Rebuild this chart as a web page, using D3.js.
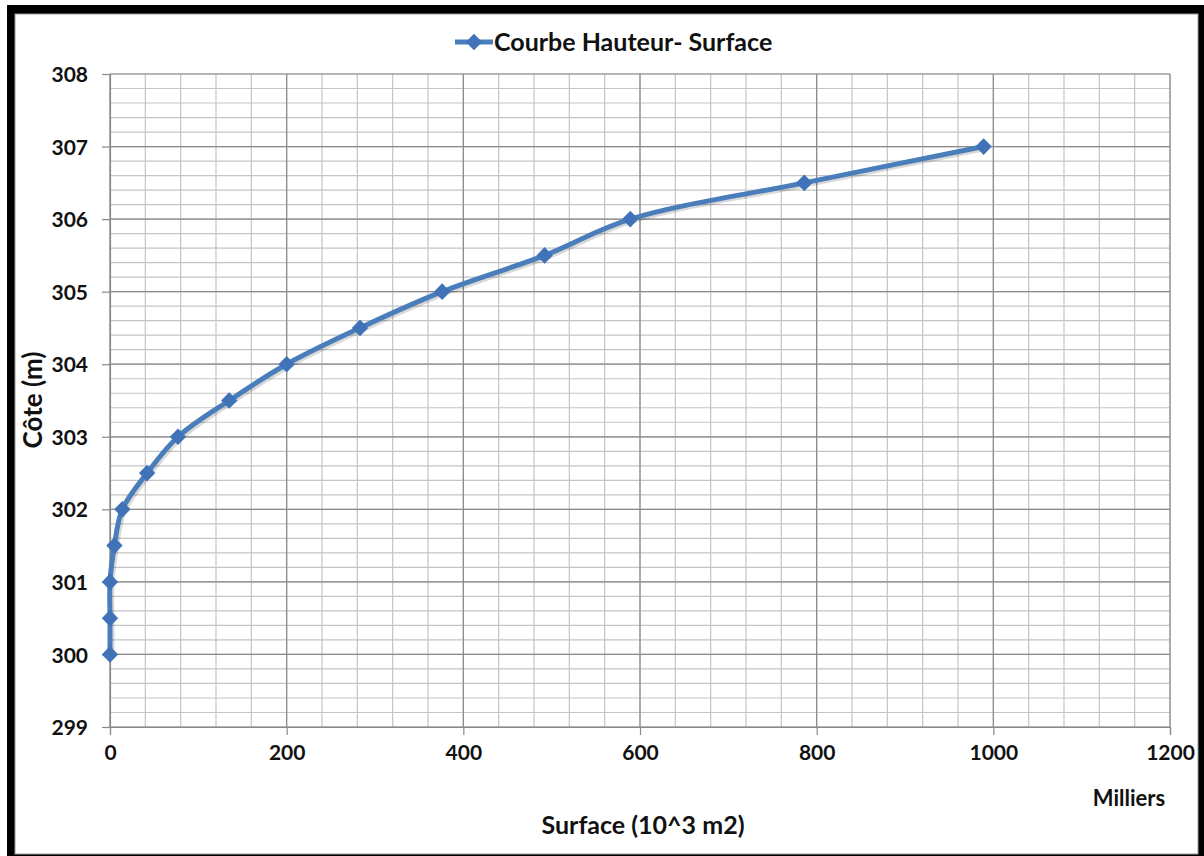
<!DOCTYPE html>
<html>
<head>
<meta charset="utf-8">
<script src="https://cdn.jsdelivr.net/npm/d3@7"></script>
<style>
  body { margin: 0; background: #fff; }
  svg { display: block; }
  text { font-family: Lato, "Open Sans", sans-serif; font-weight: bold; fill: #111; }
</style>
</head>
<body>
<svg id="chart"></svg>
<script>
// surface in milliers de m2, cote in m
var surface = [0, 0, 0, 5, 14, 42, 77, 135, 200, 283, 376, 492, 589, 786, 989]
var cote = [300, 300.5, 301, 301.5, 302, 302.5, 303, 303.5, 304, 304.5, 305, 305.5, 306, 306.5, 307]
var xTicks = [0, 200, 400, 600, 800, 1000, 1200]
var yTicks = [299, 300, 301, 302, 303, 304, 305, 306, 307, 308]
var seriesName = "Courbe Hauteur- Surface"

var points = surface.map(function(s, i) {
    return { x: s, y: cote[i] }
})

var screen = { width: 1204, height: 856 }
var svg = d3.select("#chart")
    .attr("width", screen.width)
    .attr("height", screen.height)

// frame
svg.append("rect").attr("x", 7).attr("y", 5).attr("width", 1197).attr("height", 851).attr("fill", "#000")
svg.append("rect").attr("x", 15).attr("y", 14).attr("width", 1183).attr("height", 840)
    .attr("fill", "#fff").attr("stroke", "#9a9a9a").attr("stroke-width", 1)

var xScale = d3.scaleLinear().domain([0, 1200]).range([110, 1170])
var yScale = d3.scaleLinear().domain([299, 308]).range([727, 74])

var grid = svg.append("g")
// minor grid
grid.selectAll("line.vminor")
    .data(d3.range(0, 1201, 40))
    .enter().append("line")
    .attr("x1", function(d) { return xScale(d) }).attr("x2", function(d) { return xScale(d) })
    .attr("y1", yScale(299)).attr("y2", yScale(308))
    .attr("stroke", "#c4c4c4").attr("stroke-width", 1.2)
grid.selectAll("line.hminor")
    .data(d3.range(0, 46).map(function(i) { return 299 + i * 0.2 }))
    .enter().append("line")
    .attr("y1", function(d) { return yScale(d) }).attr("y2", function(d) { return yScale(d) })
    .attr("x1", xScale(0)).attr("x2", xScale(1200))
    .attr("stroke", "#c4c4c4").attr("stroke-width", 1.2)
// major grid
grid.selectAll("line.vmajor")
    .data(xTicks)
    .enter().append("line")
    .attr("x1", function(d) { return xScale(d) }).attr("x2", function(d) { return xScale(d) })
    .attr("y1", yScale(299)).attr("y2", yScale(308))
    .attr("stroke", "#8a8a8a").attr("stroke-width", 1.2)
grid.selectAll("line.hmajor")
    .data(yTicks)
    .enter().append("line")
    .attr("y1", function(d) { return yScale(d) }).attr("y2", function(d) { return yScale(d) })
    .attr("x1", xScale(0)).attr("x2", xScale(1200))
    .attr("stroke", "#8a8a8a").attr("stroke-width", 1.2)

// axes
var xAxis = d3.axisBottom(xScale).tickValues(xTicks).tickSize(8).tickPadding(10).tickFormat(d3.format("d"))
var yAxis = d3.axisLeft(yScale).tickValues(yTicks).tickSize(8).tickPadding(14).tickFormat(d3.format("d"))

var gx = svg.append("g").attr("transform", "translate(0," + yScale(299) + ")").call(xAxis)
var gy = svg.append("g").attr("transform", "translate(" + xScale(0) + ",0)").call(yAxis)
;[gx, gy].forEach(function(g) {
    g.select(".domain").attr("stroke", "#8a8a8a").attr("stroke-width", 1.2)
    g.selectAll(".tick line").attr("stroke", "#8a8a8a").attr("stroke-width", 1.2)
    g.selectAll(".tick text").style("font-size", "21px").style("font-family", "Lato, sans-serif")
        .style("font-weight", "bold").attr("fill", "#111")
})
gy.selectAll(".tick text").attr("dy", "0.36em")

// series
var line = d3.line()
    .x(function(p) { return xScale(p.x) })
    .y(function(p) { return yScale(p.y) })
    .curve(d3.curveCatmullRom.alpha(0.5))

var blue = "#4a7ebb"
var markBlue = "#3f72b6"

svg.append("path")
    .datum(points)
    .attr("d", line)
    .attr("fill", "none")
    .attr("stroke", "#000").attr("stroke-opacity", 0.15)
    .attr("stroke-width", 5)
    .attr("transform", "translate(2,2)")
svg.append("path")
    .datum(points)
    .attr("d", line)
    .attr("fill", "none")
    .attr("stroke", blue)
    .attr("stroke-width", 5)
    .attr("stroke-linejoin", "round")

var diamond = d3.symbol().type(d3.symbolDiamond).size(80)
svg.selectAll("path.mark")
    .data(points)
    .enter().append("path")
    .attr("class", "mark")
    .attr("d", diamond)
    .attr("transform", function(p) { return "translate(" + xScale(p.x) + "," + yScale(p.y) + ") scale(1.7,1)" })
    .attr("fill", markBlue)

// legend
var lg = svg.append("g").attr("transform", "translate(455,42)")
lg.append("line").attr("x1", 0).attr("x2", 38).attr("y1", 0).attr("y2", 0)
    .attr("stroke", blue).attr("stroke-width", 5)
lg.append("path").attr("d", diamond).attr("transform", "translate(19,0) scale(1.7,1)").attr("fill", markBlue)
lg.append("text").attr("x", 39).attr("y", 0).attr("dy", "0.36em")
    .style("font-size", "25px").text(seriesName)

// axis titles
svg.append("text")
    .attr("transform", "translate(42,400) rotate(-90)")
    .attr("text-anchor", "middle")
    .style("font-size", "26px")
    .text("Côte (m)")
svg.append("text")
    .attr("x", 643).attr("y", 834)
    .attr("text-anchor", "middle")
    .style("font-size", "25px")
    .text("Surface (10^3 m2)")
svg.append("text")
    .attr("x", 1129).attr("y", 806)
    .attr("text-anchor", "middle")
    .style("font-size", "22px")
    .text("Milliers")
</script>
</body>
</html>
